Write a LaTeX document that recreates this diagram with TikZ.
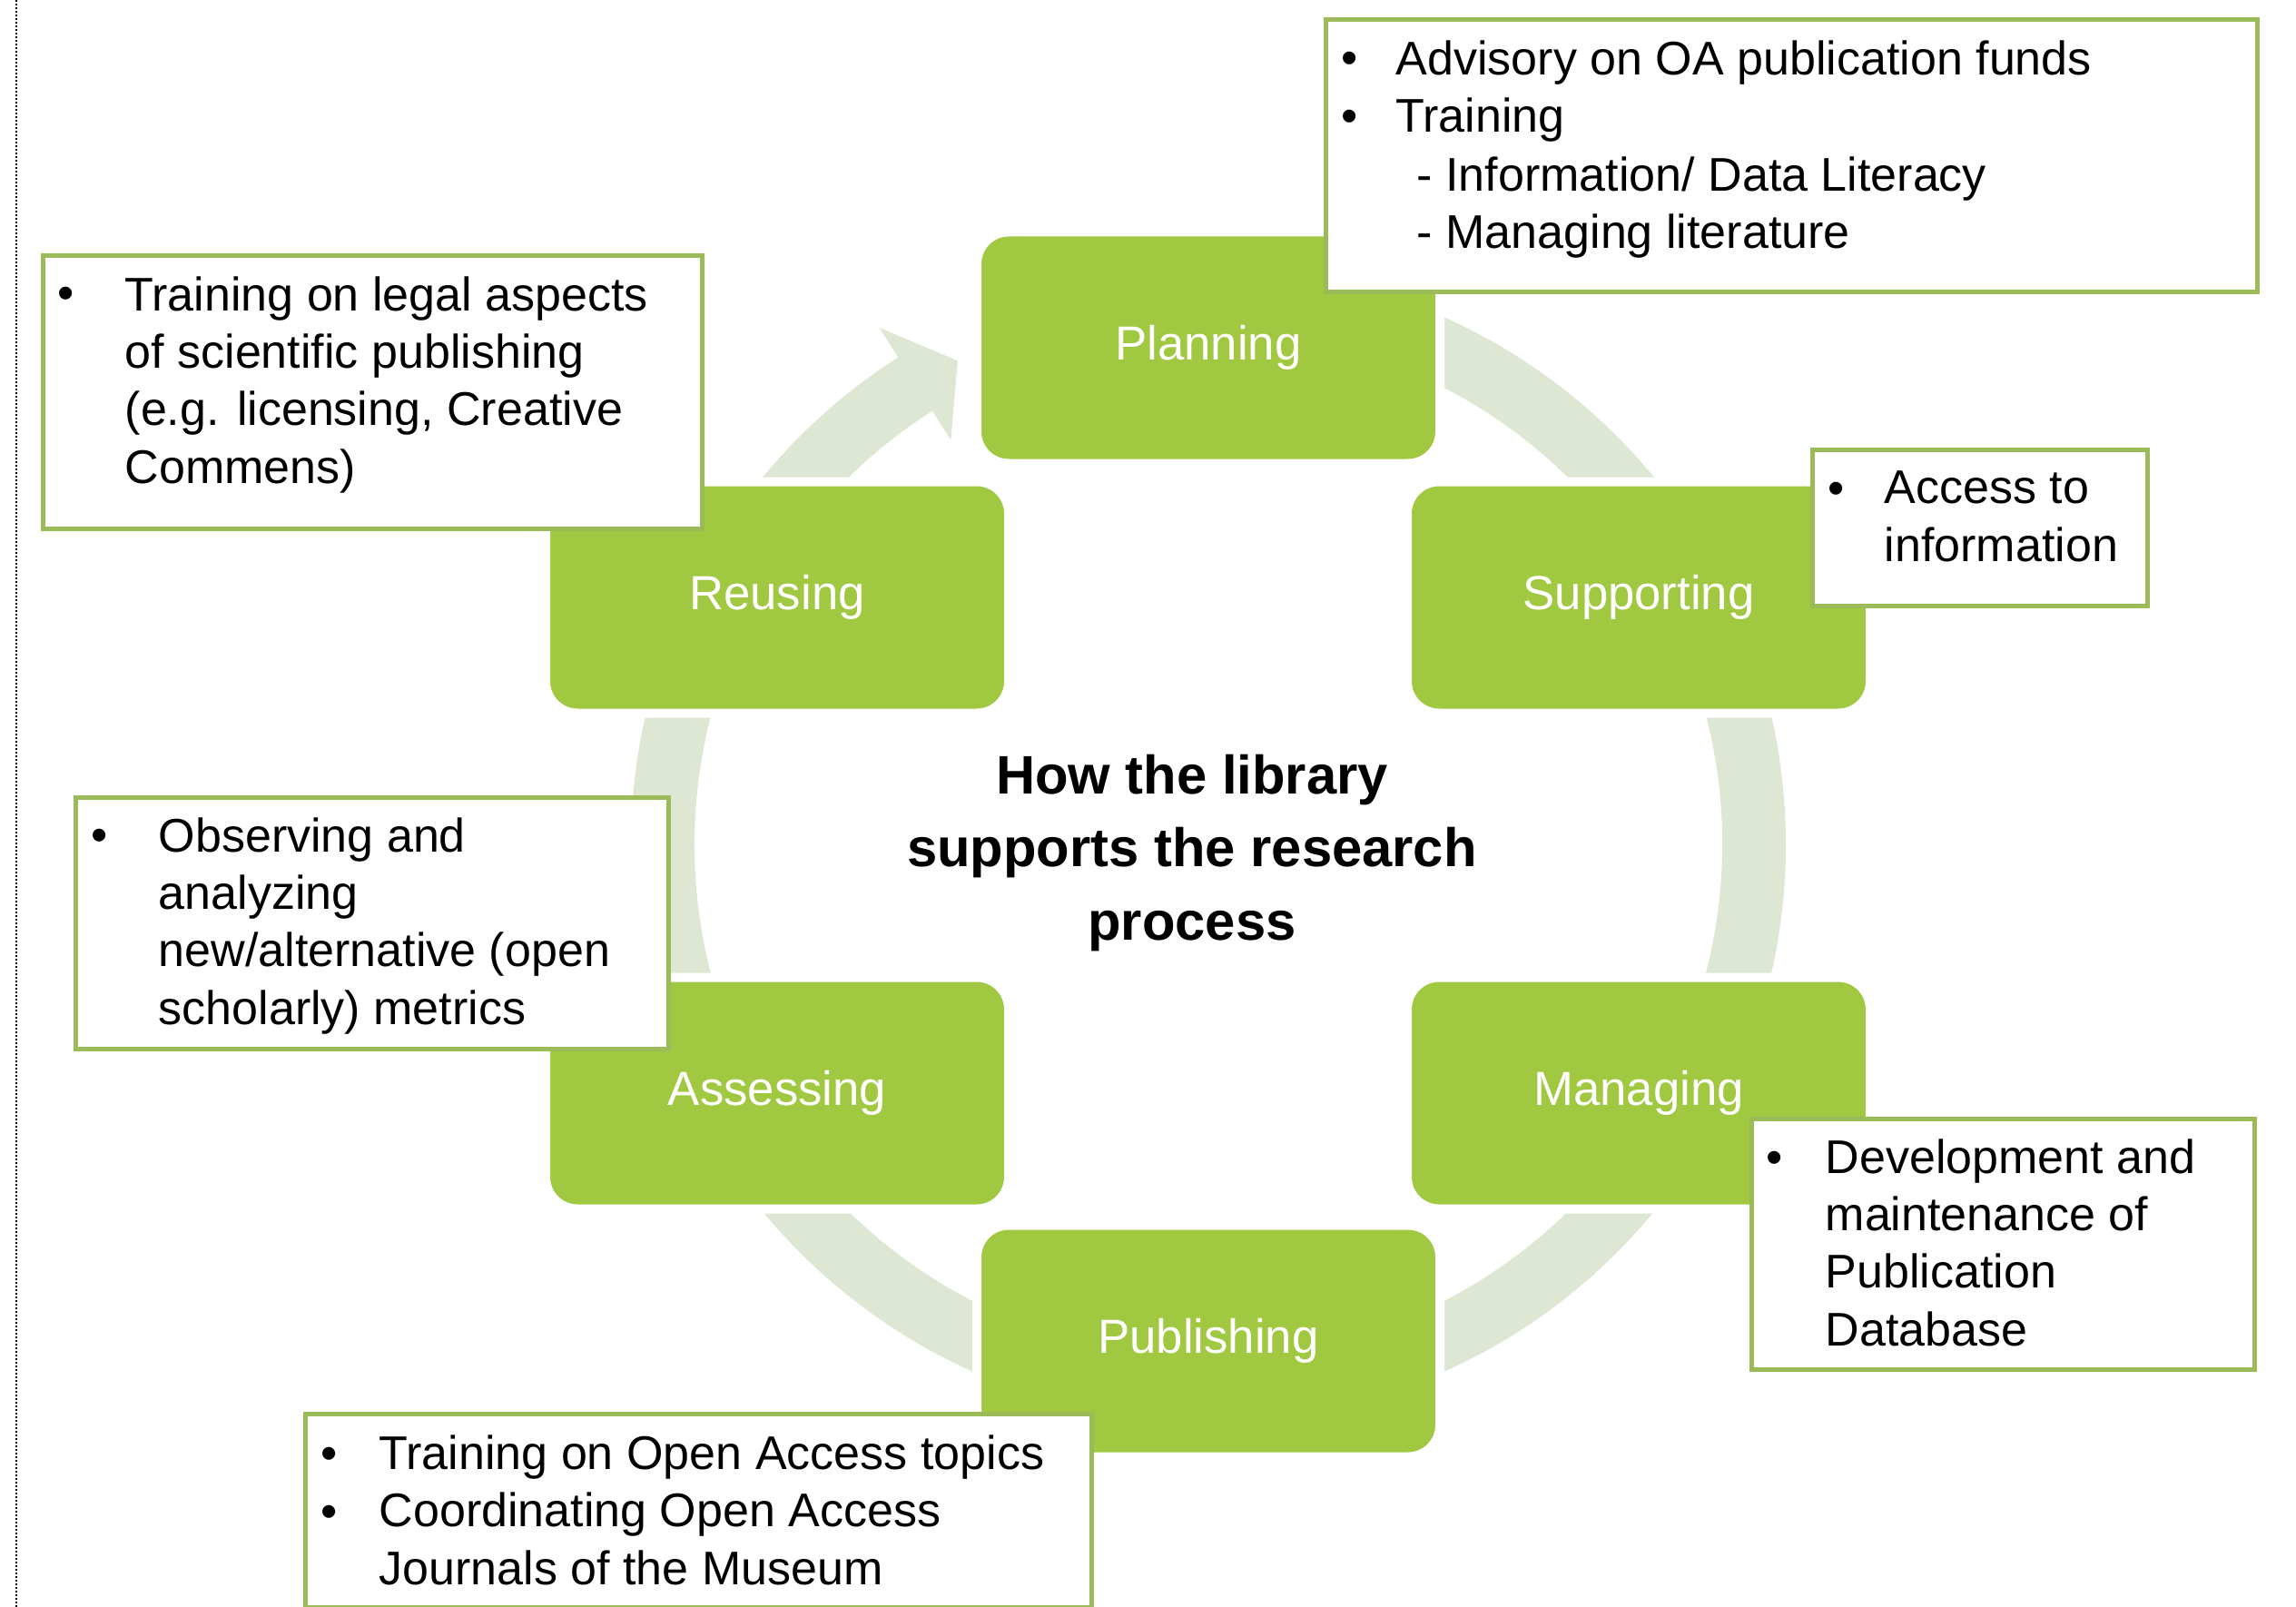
\documentclass[tikz,border=0pt]{standalone}
\usepackage{fontspec}
\setmainfont{Liberation Sans}
\usepackage{tikz}
\usetikzlibrary{positioning}
\definecolor{stagegreen}{RGB}{160,200,64}
\definecolor{ringgreen}{RGB}{222,231,211}
\definecolor{boxgreen}{RGB}{155,187,89}
\tikzset{
    stage/.style = {rectangle, rounded corners=0.35cm, draw=white, line width=0.10cm, fill=stagegreen, minimum width=5.10cm, minimum height=2.55cm, text=white, font=\fontsize{15}{18}\selectfont},
    infobox/.style = {rectangle, anchor=north west, draw=boxgreen, line width=0.05cm, fill=white, inner sep=0pt},
    infotext/.style = {anchor=base west, inner sep=0pt, align=left, font=\fontsize{14.8}{18}\selectfont}, % base = last line
    bulletdot/.style = {anchor=base, inner sep=0pt, font=\fontsize{14.8}{18}\selectfont},
    titletext/.style = {anchor=base, inner sep=0pt, align=center, font=\bfseries\fontsize{17}{22.8}\selectfont},
    cyclearrow/.style = {fill=ringgreen},
    marginline/.style = {draw=black, line width=0.02cm, dash pattern=on 0.02cm off 0.02cm}
}

\begin{document}
\begin{tikzpicture}
\useasboundingbox (0,0) rectangle (25.29,-17.70);

% dotted margin
\draw[marginline] (0.18,0) -- (0.18,-17.70);

% cycle arrow behind the stages
\begin{scope}[shift={(13.31,-9.30)}]
\fill[cyclearrow] (95:6.36) arc[start angle=95, end angle=-237.5, radius=6.36]
    -- (-237.5:6.75) -- (-242.6:6.00) -- (-237.5:5.28) -- (-237.5:5.66)
    arc[start angle=-237.5, end angle=95, radius=5.66] -- cycle;
\end{scope}

% stages
\node[stage] at (13.31, -3.83) (planning) {Planning};
\node[stage] at (18.05, -6.58) (supporting) {Supporting};
\node[stage] at (18.05,-12.04) (managing) {Managing};
\node[stage] at (13.31,-14.77) (publishing) {Publishing};
\node[stage] at ( 8.56,-12.04) (assessing) {Assessing};
\node[stage] at ( 8.56, -6.58) (reusing) {Reusing};

\node[titletext] at (13.13,-10.35) (title) {How the library\\supports the research\\process};

% planning
\node[infobox, minimum width=10.26cm, minimum height=3.00cm] at (14.58, -0.19) (oabox) {};
\node[bulletdot] at (14.87, -0.82) (oabul1) {•};
\node[bulletdot] at (14.87, -1.46) (oabul2) {•};
\node[infotext] at (15.37, -1.46) (oatext) {Advisory on OA publication funds\\Training};
\node[infotext] at (15.60, -2.74) (oasub) {- Information/ Data Literacy\\- Managing literature};

% supporting
\node[infobox, minimum width=3.69cm, minimum height=1.72cm] at (19.94, -4.93) (accessbox) {};
\node[bulletdot] at (20.23, -5.55) (accessbul) {•};
\node[infotext] at (20.75, -6.18) (accesstext) {Access to\\information};

% managing
\node[infobox, minimum width=5.54cm, minimum height=2.76cm] at (19.27,-12.30) (databox) {};
\node[bulletdot] at (19.55,-12.92) (databul) {•};
\node[infotext] at (20.10,-14.82) (datatext) {Development and\\maintenance of\\Publication\\Database};

% publishing
\node[infobox, minimum width=8.66cm, minimum height=2.13cm] at ( 3.34,-15.55) (topicbox) {};
\node[bulletdot] at ( 3.63,-16.18) (topicbul1) {•};
\node[bulletdot] at ( 3.63,-16.82) (topicbul2) {•};
\node[infotext] at ( 4.17,-17.45) (topictext) {Training on Open Access topics\\Coordinating Open Access\\Journals of the Museum};

% assessing
\node[infobox, minimum width=6.53cm, minimum height=2.77cm] at ( 0.81, -8.76) (metricbox) {};
\node[bulletdot] at ( 1.10, -9.37) (metricbul) {•};
\node[infotext] at ( 1.74,-11.28) (metrictext) {Observing and\\analyzing\\new/alternative (open\\scholarly) metrics};

% reusing
\node[infobox, minimum width=7.26cm, minimum height=3.01cm] at ( 0.45, -2.79) (legalbox) {};
\node[bulletdot] at ( 0.73, -3.41) (legalbul) {•};
\node[infotext] at ( 1.37, -5.32) (legaltext) {Training on legal aspects\\of scientific publishing\\(e.g. licensing, Creative\\Commens)};

\end{tikzpicture}
\end{document}
